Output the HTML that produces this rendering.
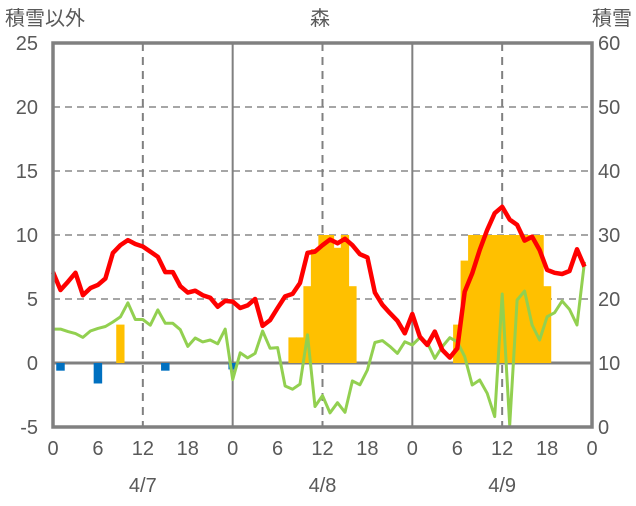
<!DOCTYPE html>
<html><head><meta charset="utf-8"><style>
body{margin:0;background:#fff;}
svg text{font-family:"Liberation Sans","Noto Sans CJK JP",sans-serif;fill:#595959;}
</style></head><body>
<svg id="chart" width="636" height="501" viewBox="0 0 636 501" xmlns="http://www.w3.org/2000/svg">
<g id="grid"></g><g id="bars"></g><g id="lines"></g><g id="axes"></g>
</svg>
<script>
const leftTicks=[25,20,15,10,5,0,-5];
const rightTicks=[60,50,40,30,20,10,0];
const hourLabels=["0","6","12","18","0","6","12","18","0","6","12","18","0"];
const dateLabels=["4/7","4/8","4/9"];
const redSeries=[7.1,5.7,6.35,7.05,5.3,5.85,6.1,6.6,8.6,9.2,9.6,9.3,9.1,8.7,8.3,7.1,7.1,6.0,5.5,5.65,5.3,5.1,4.4,4.85,
4.8,4.3,4.5,5.0,2.9,3.35,4.3,5.2,5.4,6.25,8.6,8.7,9.2,9.65,9.35,9.7,9.2,8.5,8.25,5.5,4.55,3.9,3.3,
2.32,3.83,2.06,1.41,2.45,1.02,0.42,1.15,5.57,7.0,8.83,10.4,11.7,12.2,11.2,10.8,9.56,9.87,8.83,7.27,7.05,6.95,7.19,8.88,7.52];
const greenSeries=[2.65,2.65,2.45,2.3,2.0,2.5,2.7,2.85,3.2,3.6,4.7,3.4,3.4,2.95,4.15,3.1,3.1,2.6,1.3,1.95,1.65,1.8,1.5,2.65,
-1.3,0.8,0.4,0.75,2.5,1.15,1.2,-1.8,-2.05,-1.65,2.2,-3.4,-2.55,-3.9,-3.1,-3.85,-1.4,-1.7,-0.55,1.6,1.75,1.3,0.75,
1.66,1.41,1.98,1.59,0.36,1.28,1.98,1.66,0.5,-1.72,-1.33,-2.37,-4.19,5.39,-4.84,4.92,5.62,2.97,1.8,3.62,3.93,4.84,4.19,2.97,7.91];
const purpleSeries=new Array(72).fill(-5);
const snowHours=[9,32,33,34,35,36,37,38,39,40,54,55,56,57,58,59,60,61,62,63,64,65,66];
const snowValues=[16,14,14,22,27.8,30,30,28,30,22,16,26,30,30,30,30,30,30,30,30,30,30,22];
const otherHours=[1,6,15,24];
const otherValues=[-0.6,-1.6,-0.6,-0.5];

const X0=53,X1=592,Y0=43,Y1=427;
const xS=h=>X0+(X1-X0)*h/72;
const yL=v=>Y1-(v+5)*(Y1-Y0)/30;
const yR=v=>Y1-v*(Y1-Y0)/60;
const NS="http://www.w3.org/2000/svg";
function mk(tag,attrs,parent,txt){const e=document.createElementNS(NS,tag);for(const k in attrs)e.setAttribute(k,attrs[k]);if(txt!==undefined)e.textContent=txt;document.getElementById(parent).appendChild(e);return e;}

[5,10,15,20].forEach(v=>{const e=mk('line',{x1:X0,x2:X1,y1:yL(v),y2:yL(v),stroke:'#a6a6a6','stroke-width':2,'stroke-dasharray':'7,5'},'grid');

});
[12,36,60].forEach(h=>{const e=mk('line',{x1:xS(h),x2:xS(h),y1:Y0,y2:Y1,stroke:'#808080','stroke-width':2,'stroke-dasharray':'8,6'},'grid');

});
[24,48].forEach(h=>{const e=mk('line',{x1:xS(h),x2:xS(h),y1:Y0,y2:Y1,stroke:'#808080','stroke-width':2},'grid');

});
{const e=mk('line',{x1:X0,x2:X1,y1:yL(0),y2:yL(0),stroke:'#808080','stroke-width':3},'grid');

}

const bw=(X1-X0)/72;
snowHours.forEach((h,i)=>{const top=yR(snowValues[i]);const e=mk('rect',{x:xS(h)-bw/2-0.4,y:top,width:bw+0.8,height:yR(10)-top,fill:'#ffc000'},'bars');

});
otherHours.forEach((h,i)=>{const e=mk('rect',{x:xS(h)-bw/2-0.5,y:yL(0),width:bw+1,height:yL(otherValues[i])-yL(0),fill:'#0070c0'},'bars');

});

function line(arr,color,w,name){const pts=arr.map((v,i)=>xS(i).toFixed(1)+','+yL(v).toFixed(1)).join(' ');
const e=mk('polyline',{points:pts,fill:'none',stroke:color,'stroke-width':w,'stroke-linejoin':'round'},'lines');

}
line(greenSeries,'#92d050',3,'green-series-line');
line(redSeries,'#ff0000',4.5,'red-series-line');
line(purpleSeries,'#7030a0',3,'purple-series-line');

{const e=mk('rect',{x:X0,y:Y0,width:X1-X0,height:Y1-Y0,fill:'none',stroke:'#808080','stroke-width':3.5},'axes');

}
leftTicks.forEach(v=>{const e=mk('text',{x:38,y:yL(v)+7,'text-anchor':'end','font-size':20},'axes',String(v));

});
rightTicks.forEach(v=>{const e=mk('text',{x:598,y:yR(v)+7,'text-anchor':'start','font-size':20},'axes',String(v));

});
hourLabels.forEach((t,i)=>{const e=mk('text',{x:xS(i*6),y:455,'text-anchor':'middle','font-size':20},'axes',t);

});
dateLabels.forEach((t,i)=>{const e=mk('text',{x:xS(12+24*i),y:492,'text-anchor':'middle','font-size':20},'axes',t);

});
{const e=mk('text',{x:5,y:25,'font-size':20},'axes','積雪以外');

}
{const e=mk('text',{x:320,y:25,'text-anchor':'middle','font-size':20},'axes','森');

}
{const e=mk('text',{x:632,y:25,'text-anchor':'end','font-size':20},'axes','積雪');

}
</script>
</body></html>
